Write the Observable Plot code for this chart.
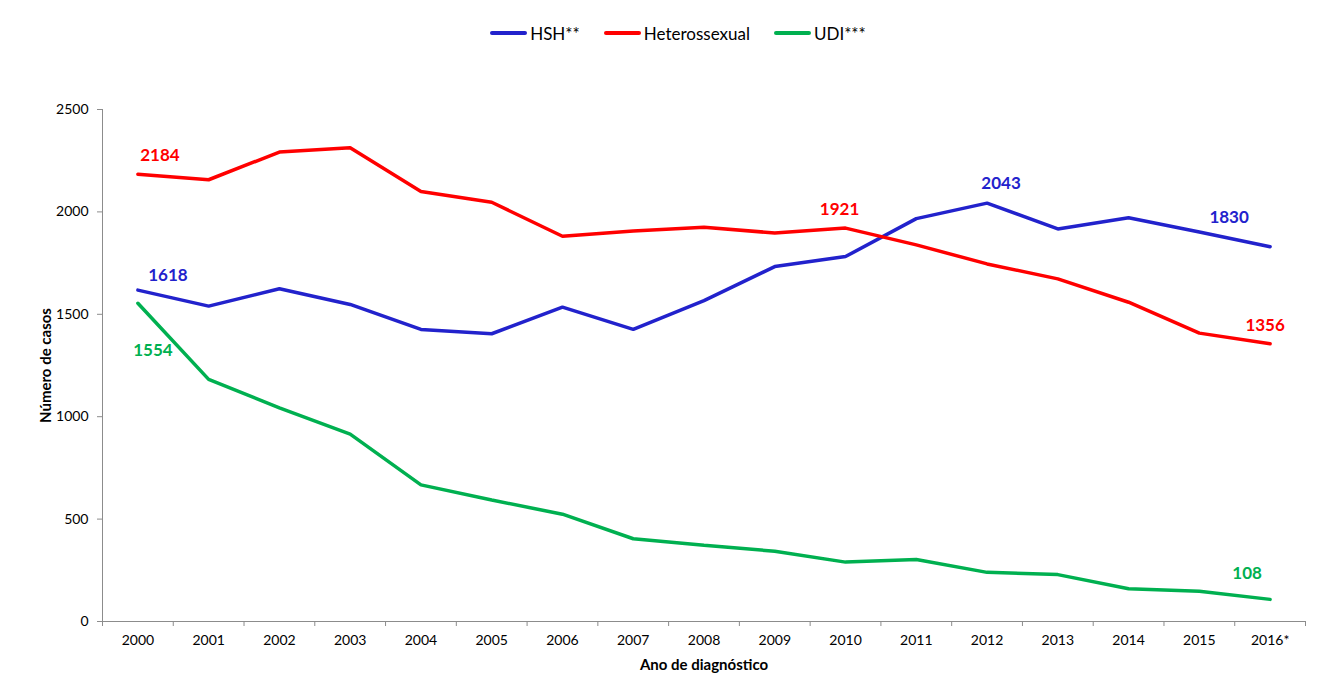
<!DOCTYPE html>
<html><head><meta charset="utf-8">
<script src="https://cdn.jsdelivr.net/npm/d3@7"></script>
<script src="https://cdn.jsdelivr.net/npm/@observablehq/plot@0.6"></script>
<style>
body{margin:0;background:#fff;font-family:Lato, "Open Sans", sans-serif;}
#legend{height:66px;width:1319px;box-sizing:border-box;padding-left:37px;display:flex;justify-content:center;align-items:center;gap:24px;font-size:17px;color:#000;}
.item{display:flex;align-items:center;}
.sw{width:37px;height:3.5px;margin-right:3px;border-radius:2px;}
</style></head><body>
<div id="legend"></div>
<div id="chart"></div>
<script>
const years = ["2000","2001","2002","2003","2004","2005","2006","2007","2008","2009","2010","2011","2012","2013","2014","2015","2016*"];
const seriesNames = ["HSH**","Heterossexual","UDI***"];
const seriesColors = ["#2222CC","#FF0000","#00B050"];
const hsh    = [1618,1540,1625,1548,1426,1405,1535,1426,1567,1733,1782,1967,2043,1917,1971,1902,1830];
const hetero = [2184,2157,2292,2313,2100,2047,1881,1907,1925,1897,1921,1839,1746,1673,1559,1408,1356];
const udi    = [1554,1182,1043,915,667,593,524,404,372,343,290,303,240,229,160,148,108];
const yTicks = [0,500,1000,1500,2000,2500];

const seriesValues = [hsh, hetero, udi];
const rows = [];
seriesNames.forEach((s, k) => seriesValues[k].forEach((v, i) => rows.push({series: s, i, value: v})));
const pick = (s, i) => rows.filter(d => d.series === s && d.i === i);

// legend
const leg = document.getElementById("legend");
seriesNames.forEach((s, k) => {
  const it = document.createElement("div"); it.className = "item";
  const sw = document.createElement("div"); sw.className = "sw"; sw.style.background = seriesColors[k];
  const tx = document.createElement("span"); tx.textContent = s;
  it.appendChild(sw); it.appendChild(tx); leg.appendChild(it);
});

const idx = years.map((_, i) => i);
const bounds = d3.range(-0.5, years.length, 1);
const lblStyle = {text: d => String(d.value), fontSize: 17, fontWeight: "bold"};

const chart = Plot.plot({
  width: 1319,
  height: 610,
  marginTop: 43,
  marginBottom: 55,
  marginLeft: 102,
  marginRight: 14,
  style: {fontFamily: "Lato, 'Open Sans', sans-serif", fontSize: "14px", color: "#000", background: "#fff"},
  x: {type: "linear", domain: [-0.5, years.length - 0.5]},
  y: {domain: [0, 2500]},
  color: {domain: seriesNames, range: seriesColors},
  marks: [
    Plot.ruleY([0], {stroke: "#8c8c8c", strokeWidth: 1}),
    Plot.ruleX([-0.5], {stroke: "#8c8c8c", strokeWidth: 1}),
    Plot.axisY({ticks: yTicks, tickSize: 5, tickPadding: 9, tickFormat: d => String(d), stroke: "#8c8c8c", fill: "#000", label: "Número de casos", labelAnchor: "center", labelArrow: "none", labelOffset: 62, fontSize: 14}),
    Plot.axisX({ticks: bounds, tickSize: 5, tickFormat: () => "", stroke: "#8c8c8c", label: null}),
    Plot.axisX({ticks: idx, tickSize: 0, tickPadding: 14, tickFormat: i => years[i], fill: "#000", label: "Ano de diagnóstico", labelAnchor: "center", labelArrow: "none", labelOffset: 48, fontSize: 14}),
    Plot.line(rows, {x: "i", y: "value", z: "series", stroke: "series", strokeWidth: 3.5, strokeLinejoin: "miter"}),
    Plot.text(pick("HSH**", 0), {x: "i", y: "value", ...lblStyle, fill: seriesColors[0], dx: 30, dy: -15}),
    Plot.text(pick("HSH**", 12), {x: "i", y: "value", ...lblStyle, fill: seriesColors[0], dx: 14, dy: -20}),
    Plot.text(pick("HSH**", 16), {x: "i", y: "value", ...lblStyle, fill: seriesColors[0], dx: -41, dy: -29}),
    Plot.text(pick("Heterossexual", 0), {x: "i", y: "value", ...lblStyle, fill: seriesColors[1], dx: 22, dy: -19}),
    Plot.text(pick("Heterossexual", 10), {x: "i", y: "value", ...lblStyle, fill: seriesColors[1], dx: -6, dy: -19}),
    Plot.text(pick("Heterossexual", 16), {x: "i", y: "value", ...lblStyle, fill: seriesColors[1], dx: -5, dy: -18}),
    Plot.text(pick("UDI***", 0), {x: "i", y: "value", ...lblStyle, fill: seriesColors[2], dx: 15, dy: 47}),
    Plot.text(pick("UDI***", 16), {x: "i", y: "value", ...lblStyle, fill: seriesColors[2], dx: -23, dy: -26})
  ]
});
// bold axis titles only
chart.querySelectorAll("g[aria-label='x-axis label'], g[aria-label='y-axis label']").forEach(g => {
  g.setAttribute("font-weight", "bold");
  g.setAttribute("font-size", "15");
  g.querySelectorAll("text").forEach(t => { t.setAttribute("font-weight", "bold"); t.setAttribute("font-size", "15"); });
});
chart.querySelectorAll("g[aria-label='x-axis tick label'], g[aria-label='y-axis tick label']").forEach(g => {
  g.setAttribute("font-weight", "normal");
  g.querySelectorAll("text").forEach(t => t.setAttribute("font-weight", "normal"));
});
document.getElementById("chart").appendChild(chart);
</script>
</body></html>
